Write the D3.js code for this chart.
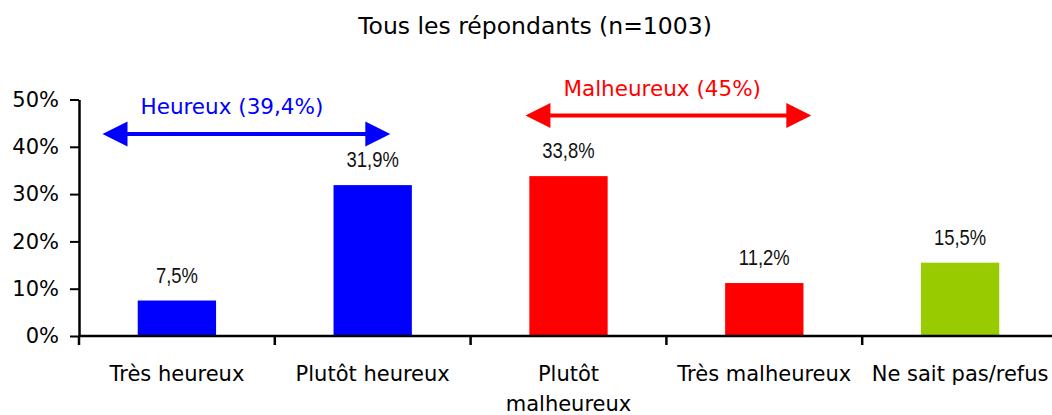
<!DOCTYPE html>
<html>
<head>
<meta charset="utf-8">
<script src="https://cdn.jsdelivr.net/npm/d3@7"></script>
<style>
  body { margin: 0; background: #fff; }
  text { fill: #000; }
</style>
</head>
<body>
<div id="chart"></div>
<script>
// Chart data
const CATEGORIES = ["Très heureux", "Plutôt heureux", "Plutôt malheureux", "Très malheureux", "Ne sait pas/refus"];
const VALUES = [7.5, 31.9, 33.8, 11.2, 15.5];
const VALUE_LABELS = ["7,5%", "31,9%", "33,8%", "11,2%", "15,5%"];
const BAR_COLORS = ["#0000ff", "#0000ff", "#ff0000", "#ff0000", "#99cc00"];
const Y_TICKS = [0, 10, 20, 30, 40, 50];

// Group annotations (arrows above the bars), in category-index units
const GROUP_LABELS = ["Heureux (39,4%)", "Malheureux (45%)"];
const GROUP_FROM = [0.12, 2.28];
const GROUP_TO = [1.59, 3.74];
const GROUP_LEVEL = [42.7, 46.6];
const GROUP_COLORS = ["#0000ff", "#ff0000"];

const TITLE = "Tous les répondants (n=1003)";

// Frame
const FRAME_WIDTH = 1052;
const FRAME_HEIGHT = 415;
const PLOT = {left: 79, right: 1058, top: 99.5, bottom: 336};
const AXIS_FONT = "'DejaVu Sans', Verdana, sans-serif";

const svg = d3.select("#chart")
              .append("svg")
                .attr("width", FRAME_WIDTH)
                .attr("height", FRAME_HEIGHT);

// Scales
const X_SCALE = d3.scaleBand()
                  .domain(CATEGORIES)
                  .range([PLOT.left, PLOT.right])
                  .paddingInner(0.6)
                  .paddingOuter(0.3);

const STEP = X_SCALE.step();

// index units -> pixels (for the arrows and boundary ticks)
const X_INDEX = d3.scaleLinear()
                  .domain([0, CATEGORIES.length])
                  .range([PLOT.left, PLOT.left + STEP * CATEGORIES.length]);

const Y_SCALE = d3.scaleLinear()
                  .domain([0, 50])
                  .range([PLOT.bottom, PLOT.top]);

// Title
svg.append("text")
   .attr("x", 535)
   .attr("y", 34)
   .attr("text-anchor", "middle")
   .attr("font-family", AXIS_FONT)
   .attr("font-size", "23.5px")
   .text(TITLE);

// Bars
svg.selectAll(".bar")
   .data(VALUES)
   .enter()
   .append("rect")
     .attr("class", "bar")
     .attr("x", (d, i) => X_SCALE(CATEGORIES[i]))
     .attr("y", (d) => Y_SCALE(d))
     .attr("width", X_SCALE.bandwidth())
     .attr("height", (d) => PLOT.bottom - Y_SCALE(d))
     .attr("fill", (d, i) => BAR_COLORS[i]);

// Value labels (narrow font: Liberation Sans squeezed like Arial Narrow)
svg.selectAll(".val")
   .data(VALUES)
   .enter()
   .append("text")
     .attr("class", "val")
     .attr("transform", (d, i) => "translate(" + (X_SCALE(CATEGORIES[i]) + X_SCALE.bandwidth() / 2) +
           "," + (Y_SCALE(d) - 18) + ") scale(0.82,1)")
     .attr("text-anchor", "middle")
     .attr("font-family", "'Liberation Sans', Arial, sans-serif")
     .attr("font-size", "22.5px")
     .style("fill", "#111")
     .text((d, i) => VALUE_LABELS[i]);

// Y axis
const yAxis = svg.append("g")
   .attr("transform", "translate(" + PLOT.left + ",0)")
   .call(d3.axisLeft(Y_SCALE)
           .tickValues(Y_TICKS)
           .tickSize(9)
           .tickSizeOuter(0)
           .tickPadding(11)
           .tickFormat((d) => d + "%"));
yAxis.selectAll("text")
     .attr("font-family", AXIS_FONT)
     .attr("font-size", "21px")
     .attr("fill", "#000");
yAxis.selectAll("line").attr("stroke", "#000").attr("stroke-width", 2);
yAxis.select(".domain").attr("stroke", "#000").attr("stroke-width", 2.5);

// X axis line
svg.append("line")
   .attr("x1", PLOT.left)
   .attr("x2", FRAME_WIDTH)
   .attr("y1", PLOT.bottom)
   .attr("y2", PLOT.bottom)
   .attr("stroke", "#000")
   .attr("stroke-width", 2.5);

// X ticks at category boundaries
svg.selectAll(".xtick")
   .data(d3.range(CATEGORIES.length))
   .enter()
   .append("line")
     .attr("class", "xtick")
     .attr("x1", (i) => X_INDEX(i))
     .attr("x2", (i) => X_INDEX(i))
     .attr("y1", PLOT.bottom)
     .attr("y2", PLOT.bottom + 9)
     .attr("stroke", "#000")
     .attr("stroke-width", 2.5);

// X labels (wrap "Plutôt malheureux")
const xLabels = svg.selectAll(".xlab")
   .data(CATEGORIES)
   .enter()
   .append("text")
     .attr("class", "xlab")
     .attr("text-anchor", "middle")
     .attr("font-family", AXIS_FONT)
     .attr("font-size", "21px")
     .attr("x", (d) => X_SCALE(d) + X_SCALE.bandwidth() / 2)
     .attr("y", PLOT.bottom + 45);

xLabels.each(function(d) {
  const lines = (d === "Plutôt malheureux") ? ["Plutôt", "malheureux"] : [d];
  const x = X_SCALE(d) + X_SCALE.bandwidth() / 2;
  d3.select(this).selectAll("tspan")
    .data(lines)
    .enter()
    .append("tspan")
      .attr("x", x)
      .attr("dy", (l, j) => j === 0 ? 0 : 30)
      .text((l) => l);
});

// Group arrows
const HEAD_LEN = 25;
const HEAD_HALF = 12.5;

GROUP_LABELS.forEach((label, g) => {
  const x0 = X_INDEX(GROUP_FROM[g]);
  const x1 = X_INDEX(GROUP_TO[g]);
  const yy = Y_SCALE(GROUP_LEVEL[g]);
  const col = GROUP_COLORS[g];

  svg.append("line")
     .attr("x1", x0 + HEAD_LEN - 2)
     .attr("x2", x1 - HEAD_LEN + 2)
     .attr("y1", yy)
     .attr("y2", yy)
     .attr("stroke", col)
     .attr("stroke-width", 4);

  svg.append("path")
     .attr("d", "M" + x0 + "," + yy + "L" + (x0 + HEAD_LEN) + "," + (yy - HEAD_HALF) +
                "L" + (x0 + HEAD_LEN) + "," + (yy + HEAD_HALF) + "Z")
     .attr("fill", col);

  svg.append("path")
     .attr("d", "M" + x1 + "," + yy + "L" + (x1 - HEAD_LEN) + "," + (yy - HEAD_HALF) +
                "L" + (x1 - HEAD_LEN) + "," + (yy + HEAD_HALF) + "Z")
     .attr("fill", col);

  svg.append("text")
     .attr("x", x0 + 38)
     .attr("y", yy - 20)
     .attr("font-family", AXIS_FONT)
     .attr("font-size", "21.5px")
     .style("fill", col)
     .text(label);
});
</script>
</body>
</html>
